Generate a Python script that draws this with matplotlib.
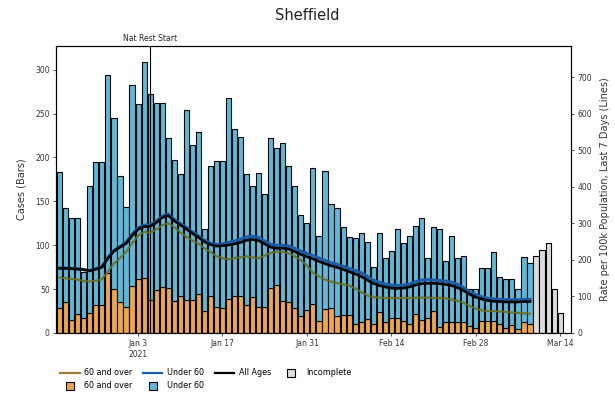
import numpy as np
import matplotlib
matplotlib.use('Agg')
import matplotlib.pyplot as plt
import matplotlib.dates as mdates
from matplotlib.lines import Line2D

# ---------------- data ----------------
start_date = '2020-12-21'
incomplete_start = '2021-03-10'

cases_60_over = [
    29, 35, 15, 22, 17, 23, 32, 32, 68, 50, 35,
    30, 53, 61, 63, 38, 49, 52, 51, 37, 42, 38, 38, 45, 25, 42, 30, 29, 39, 42, 42,
    32, 41, 30, 30, 51, 55, 36, 35, 28, 19, 26,
    33, 14, 27, 29, 19, 20, 20, 10, 13, 16, 10, 24, 12, 17, 17, 14, 10, 22, 15, 17,
    25, 7, 13, 13, 12, 13, 8, 6,
    14, 14, 14, 10, 6, 9, 5, 12, 10]

cases_total = [
    184, 142, 131, 131, 70, 168, 195, 195, 294, 245, 179,
    143, 282, 261, 309, 272, 262, 262, 222, 197, 181, 254, 214, 229, 118, 190, 196,
    196, 268, 233, 223, 181, 167, 182, 158, 222, 211, 216, 190, 167, 135, 125,
    188, 110, 185, 147, 142, 121, 109, 108, 114, 104, 75, 114, 85, 93, 119, 102, 111,
    122, 131, 85, 121, 119, 82, 110, 85, 88, 50, 50,
    74, 74, 92, 64, 61, 61, 50, 87, 80]

cases_under_60 = [t - o for t, o in zip(cases_total, cases_60_over)]

incomplete_cases = [88, 95, 103, 50, 23]

rate_all_ages = [
    177, 177, 176, 175, 173, 170, 175, 180, 205, 224, 235,
    245, 266, 284, 291, 292, 302, 316, 322, 307, 296, 285, 273, 262, 250, 242, 238,
    239, 241, 244, 248, 254, 256, 253, 244, 235, 232, 232, 230, 223, 215, 209,
    203, 196, 190, 184, 180, 174, 168, 162, 155, 145, 136, 130, 126, 123, 122, 123,
    126, 131, 135, 136, 136, 135, 133, 130, 124, 116, 106, 98,
    93, 89, 87, 86, 85, 85, 85, 86, 86]

rate_under_60 = [
    178, 178, 177, 176, 174, 171, 176, 181, 206, 226, 237,
    248, 270, 288, 295, 296, 306, 320, 326, 311, 300, 289, 277, 266, 254, 246, 242,
    244, 248, 252, 257, 263, 265, 262, 252, 243, 240, 240, 238, 232, 224, 218,
    212, 205, 199, 192, 188, 183, 177, 171, 165, 155, 145, 139, 134, 131, 130, 131,
    134, 140, 145, 146, 145, 144, 142, 139, 133, 124, 113, 105,
    99, 95, 93, 92, 91, 91, 91, 92, 92]

rate_60_over = [
    152, 150, 148, 146, 142, 141, 143, 147, 168, 190, 205,
    222, 246, 266, 277, 274, 283, 295, 301, 290, 276, 264, 253, 245, 232, 222, 210,
    205, 202, 205, 207, 210, 207, 205, 212, 219, 223, 222, 218, 210, 200, 185,
    165, 155, 146, 141, 137, 133, 130, 122, 112, 103, 98, 97, 96, 96, 96, 96,
    96, 96, 97, 97, 96, 96, 95, 92, 88, 82, 74, 67,
    62, 60, 60, 59, 58, 56, 55, 54, 53]

tick_dates = ['2021-01-03', '2021-01-17', '2021-01-31', '2021-02-14', '2021-02-28', '2021-03-14']
tick_labels = ['Jan 3\n2021', 'Jan 17', 'Jan 31', 'Feb 14', 'Feb 28', 'Mar 14']
event_date = '2021-01-05'
event_label = 'Nat Rest Start'

# ---------------- styling ----------------
c_orange = '#EFA647'
c_blue = '#5BBAD9'
c_line60 = '#6F6E26'
c_lineU60 = '#1A5DA6'
c_grey = '#DCDCDC'

dates = np.datetime64(start_date) + np.arange(len(cases_total))
inc_dates = np.datetime64(incomplete_start) + np.arange(len(incomplete_cases))

fig = plt.figure(figsize=(6.15, 3.97), dpi=100)
ax = fig.add_axes([56 / 615, 1 - 333 / 397, (571 - 56) / 615, (333 - 46) / 397])

bw = 0.85
ax.bar(dates, cases_60_over, width=bw, color=c_orange, edgecolor='black', linewidth=0.8, zorder=2)
ax.bar(dates, cases_under_60, bottom=cases_60_over, width=bw, color=c_blue,
       edgecolor='black', linewidth=0.8, zorder=2)
ax.bar(inc_dates, incomplete_cases, width=bw, color=c_grey, edgecolor='black', linewidth=0.8, zorder=2)

x0 = mdates.date2num(np.datetime64(start_date))
ax.set_xlim(x0 - 0.61, x0 + 84.8)
ax.set_ylim(0, 327)
ax.set_yticks(np.arange(0, 301, 50))
ax.set_xticks([mdates.date2num(np.datetime64(d)) for d in tick_dates])
ax.set_xticklabels(tick_labels)
ax.tick_params(axis='both', labelsize=5.5, length=2.5, width=0.6, colors='#333333', pad=2)
ax.set_ylabel('Cases (Bars)', fontsize=7, color='#333333', labelpad=6)

ev = mdates.date2num(np.datetime64(event_date))
ax.axvline(ev, color='black', linewidth=0.8, zorder=3)
ax.text(ev, 1.012, event_label, transform=ax.get_xaxis_transform(), ha='center', va='bottom',
        fontsize=5.5, color='#222222')

ax2 = ax.twinx()
ax2.plot(dates, rate_60_over, color=c_line60, linewidth=1.6, alpha=0.9, zorder=3)
ax2.plot(dates, rate_under_60, color=c_lineU60, linewidth=2.2, zorder=4)
ax2.plot(dates, rate_all_ages, color='black', linewidth=1.9, zorder=5)
ax2.set_ylim(0, 786)
ax2.set_yticks(np.arange(0, 701, 100))
ax2.tick_params(axis='y', labelsize=5.5, length=2.5, width=0.6, colors='#333333', pad=2)
ax2.set_ylabel('Rate per 100k Population, Last 7 Days (Lines)', fontsize=7, color='#333333', labelpad=6)

for a in (ax, ax2):
    for s in a.spines.values():
        s.set_linewidth(0.8)

fig.text(0.5, 1 - 15 / 397, 'Sheffield', ha='center', va='center', fontsize=10.5, color='#222222')

handles = [
    Line2D([], [], color='#9A7B3A', linewidth=1.6),
    Line2D([], [], marker='s', linestyle='none', markersize=6, markerfacecolor=c_orange, markeredgecolor='black', markeredgewidth=0.8),
    Line2D([], [], color=c_lineU60, linewidth=1.6),
    Line2D([], [], marker='s', linestyle='none', markersize=6, markerfacecolor=c_blue, markeredgecolor='black', markeredgewidth=0.8),
    Line2D([], [], color='black', linewidth=1.6),
    Line2D([], [], marker='s', linestyle='none', markersize=6, markerfacecolor=c_grey, markeredgecolor='black', markeredgewidth=0.8),
]
labels = ['60 and over', '60 and over', 'Under 60', 'Under 60', 'All Ages', 'Incomplete']
fig.legend(handles, labels, loc='upper left', bbox_to_anchor=(0.098, 0.072), ncol=4, frameon=False,
           fontsize=5.8, handlelength=2.4, columnspacing=1.3, labelspacing=0.5, handletextpad=0.6,
           borderaxespad=0, borderpad=0)

fig.savefig('out.png', dpi=100)
